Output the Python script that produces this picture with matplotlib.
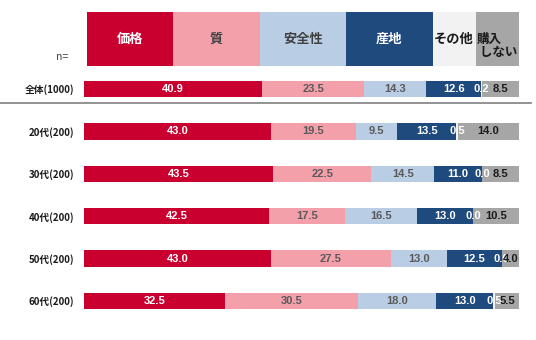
import matplotlib
matplotlib.use("Agg")
import numpy as np
import matplotlib.pyplot as plt
from matplotlib.lines import Line2D

# ---------------- Data ----------------
groups = ["全体(1000)", "20代(200)", "30代(200)", "40代(200)", "50代(200)", "60代(200)"]
answers = ["価格", "質", "安全性", "産地", "その他", "購入\n しない"]

price = [40.9, 43.0, 43.5, 42.5, 43.0, 32.5]
quality = [23.5, 19.5, 22.5, 17.5, 27.5, 30.5]
safety = [14.3, 9.5, 14.5, 16.5, 13.0, 18.0]
origin = [12.6, 13.5, 11.0, 13.0, 12.5, 13.0]
other = [0.2, 0.5, 0.0, 0.0, 0.0, 0.5]
no_buy = [8.5, 14.0, 8.5, 10.5, 4.0, 5.5]

# ---------------- Styles ----------------
COLORS = ["#C9002F", "#F4A0AB", "#B9CDE5", "#1F4A7E", "#F2F2F2", "#A6A6A6"]
VALUE_COLORS = ["white", "#595959", "#595959", "white", "white", "#1A1A1A"]
HEAD_COLORS = ["white", "#404040", "#404040", "white", "#1A1A1A", "#1A1A1A"]
HEAD_SPAN = [2, 2, 2, 2, 1, 1]

JP = ["Noto Sans CJK JP", "DejaVu Sans"]
NUM = ["Liberation Sans", "DejaVu Sans"]

W, H = 536, 340
fig = plt.figure(figsize=(W / 100, H / 100), dpi=100)
fig.patch.set_facecolor("white")

# ---------------- Header blocks ----------------
hx0, hx1, hy0, hy1 = 87, 519, 12, 66
hax = fig.add_axes([hx0 / W, 1 - hy1 / H, (hx1 - hx0) / W, (hy1 - hy0) / H])
left = 0
for i, span in enumerate(HEAD_SPAN):
    hax.barh(0, span, left=left, height=1, color=COLORS[i], linewidth=0)
    if i == len(HEAD_SPAN) - 1:
        hax.text(left + 0.03, 0.13, answers[i], ha="left", va="center",
                 color=HEAD_COLORS[i], fontsize=9, fontweight="bold",
                 family=JP, linespacing=1.0)
    else:
        hax.text(left + span / 2, 0.0, answers[i], ha="center", va="center",
                 color=HEAD_COLORS[i], fontsize=9.5, fontweight="bold", family=JP)
    left += span
hax.set_xlim(0, sum(HEAD_SPAN))
hax.set_ylim(0.5, -0.5)
hax.axis("off")

fig.text(62 / W, 1 - 57 / H, "n=", ha="center", va="center",
         fontsize=7.5, color="#404040", family=JP)

# ---------------- Stacked bars ----------------
bx0, bx1, by0, by1 = 84, 519, 67.8, 322.2
ax = fig.add_axes([bx0 / W, 1 - by1 / H, (bx1 - bx0) / W, (by1 - by0) / H])

series = [price, quality, safety, origin, other, no_buy]
y = np.arange(len(groups))
base = np.zeros(len(groups))
for k, vals in enumerate(series):
    vals = np.array(vals)
    ax.barh(y, vals, left=base, height=0.39, color=COLORS[k], linewidth=0)
    for yi, (b, v) in enumerate(zip(base, vals)):
        ax.text(b + v / 2, yi, f"{v:.1f}", ha="center", va="center",
                color=VALUE_COLORS[k], fontsize=8, fontweight="bold", family=NUM)
    base += vals

ax.set_xlim(0, 100)
ax.set_ylim(len(groups) - 0.5, -0.5)
ax.set_yticks(y)
ax.set_yticklabels(groups, fontsize=7, fontweight="bold", family=JP, color="#1A1A1A")
ax.tick_params(axis="y", length=0, pad=7)
ax.set_xticks([])
for s in ax.spines.values():
    s.set_visible(False)

# line separating the total from the age groups
fig.add_artist(Line2D([0, 531 / W], [1 - 103 / H] * 2, color="#808080", lw=1.2))

fig.savefig("out.png", dpi=100, facecolor="white")
